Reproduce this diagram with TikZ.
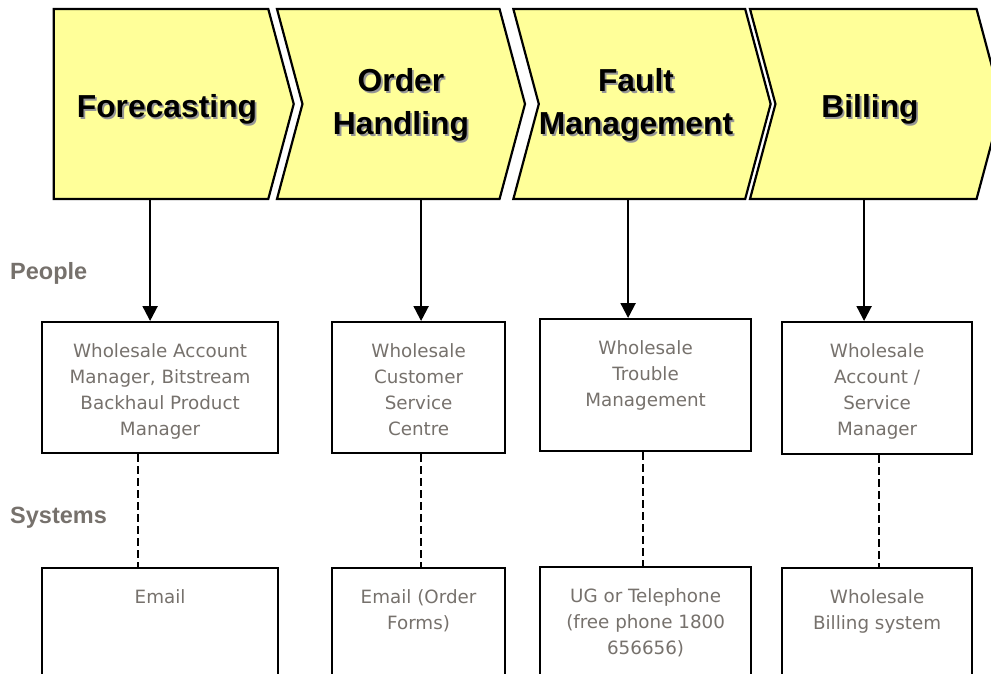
\documentclass[tikz,border=0pt]{standalone}
\usepackage{fontspec}
\setmainfont{Liberation Sans}
\newfontfamily\boxfont{DejaVu Sans}
\usetikzlibrary{shapes.symbols,arrows.meta,positioning}

\definecolor{stageyellow}{RGB}{255,255,153}
\definecolor{labelgray}{RGB}{118,113,108}
\definecolor{shadowgray}{RGB}{150,150,150}

% bold heading with a soft drop shadow
\newcommand{\shadowed}[1]{\makebox[0pt][l]{\hspace{1.8pt}\raisebox{-1.8pt}{\textcolor{shadowgray}{#1}}}#1}

\tikzset{
  stage/.style={signal, draw, line width=2.2pt, fill=stageyellow, signal to=east,
    signal pointer angle=150, minimum height=190pt, align=center, inner sep=0pt,
    font=\bfseries\fontsize{31.8}{43}\selectfont},
  oneline/.style={text height=35pt},
  twoline/.style={text height=70pt},
  rolebox/.style={draw, line width=2.2pt, anchor=north west, inner sep=0pt},
  roletext/.style={text=labelgray, align=center, inner sep=0pt,
    font=\boxfont\fontsize{18.3}{26}\selectfont},
  rowlabel/.style={text=labelgray, anchor=base west, inner sep=0pt,
    font=\bfseries\fontsize{23.5}{28}\selectfont},
  flow/.style={-{Triangle[length=15pt,width=15pt]}, line width=2.2pt},
  link/.style={line width=2pt, dash pattern=on 8pt off 4pt}
}

\begin{document}
\begin{tikzpicture}[x=1pt, y=-1pt]
    \useasboundingbox (0,0) rectangle (991,674);
    \clip (0,0) rectangle (991,674);

    % Process stages
    \node[stage, oneline, minimum width=240pt] (fc) at (161,104) {\hspace*{12pt}\shadowed{Forecasting}};
    \node[stage, twoline, signal from=west, minimum width=248pt] (oh) at (401,104) {\shadowed{Order}\\\shadowed{Handling}};
    \node[stage, twoline, signal from=west, minimum width=255pt] (fm) at (642,104) {\shadowed{Fault}\hspace*{12pt}\\\shadowed{Management}\hspace*{12pt}};
    \node[stage, oneline, signal from=west, minimum width=252pt] (bl) at (876,104) {\shadowed{Billing}\hspace*{12pt}};

    % Row labels
    \node[rowlabel] (people) at (10,279) {People};
    \node[rowlabel] (systems) at (10,523) {Systems};

    % People
    \node[rolebox, minimum width=236pt, minimum height=131pt] (fcPeople) at (41,321) {};
    \node[rolebox, minimum width=173pt, minimum height=131pt] (ohPeople) at (331,321) {};
    \node[rolebox, minimum width=211pt, minimum height=132pt] (fmPeople) at (539,318) {};
    \node[rolebox, minimum width=190pt, minimum height=132pt] (blPeople) at (781,321) {};
    \node[roletext, below=22pt of fcPeople.north] (fcPeopleText) {Wholesale Account\\Manager, Bitstream\\Backhaul Product\\Manager};
    \node[roletext, below=22pt of ohPeople.north] (ohPeopleText) {Wholesale\\Customer\\Service\\Centre};
    \node[roletext, below=22pt of fmPeople.north] (fmPeopleText) {Wholesale\\Trouble\\Management};
    \node[roletext, below=22pt of blPeople.north] (blPeopleText) {Wholesale\\Account /\\Service\\Manager};

    % Systems
    \node[rolebox, minimum width=236pt, minimum height=140pt] (fcSystems) at (41,567) {};
    \node[rolebox, minimum width=173pt, minimum height=140pt] (ohSystems) at (331,567) {};
    \node[rolebox, minimum width=211pt, minimum height=140pt] (fmSystems) at (539,566) {};
    \node[rolebox, minimum width=190pt, minimum height=140pt] (blSystems) at (781,567) {};
    \node[roletext, below=22pt of fcSystems.north] (fcSystemsText) {Email};
    \node[roletext, below=22pt of ohSystems.north] (ohSystemsText) {Email (Order\\Forms)};
    \node[roletext, below=22pt of fmSystems.north] (fmSystemsText) {UG or Telephone\\(free phone 1800\\656656)};
    \node[roletext, below=22pt of blSystems.north] (blSystemsText) {Wholesale\\Billing system};

    % Stage -> people
    \draw[flow] ([xshift=-10pt]fcPeople.north |- fc.south) -- ([xshift=-10pt]fcPeople.north);
    \draw[flow] ([xshift=2.5pt]ohPeople.north |- oh.south) -- ([xshift=2.5pt]ohPeople.north);
    \draw[flow] ([xshift=-17.5pt]fmPeople.north |- fm.south) -- ([xshift=-17.5pt]fmPeople.north);
    \draw[flow] ([xshift=-13pt]blPeople.north |- bl.south) -- ([xshift=-13pt]blPeople.north);

    % People -- systems
    \draw[link] ([xshift=-22pt]fcPeople.south) -- ([xshift=-22pt]fcSystems.north);
    \draw[link] ([xshift=2.5pt]ohPeople.south) -- ([xshift=2.5pt]ohSystems.north);
    \draw[link] ([xshift=-2.5pt]fmPeople.south) -- ([xshift=-2.5pt]fmSystems.north);
    \draw[link] ([xshift=2pt]blPeople.south) -- ([xshift=2pt]blSystems.north);
\end{tikzpicture}
\end{document}
